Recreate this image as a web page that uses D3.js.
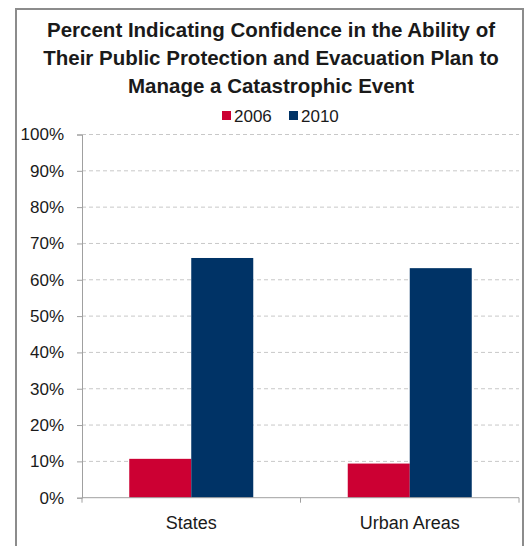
<!DOCTYPE html>
<html><head><meta charset="utf-8">
<script src="https://cdn.jsdelivr.net/npm/d3@7"></script>
<style>body{margin:0;background:#fff;}svg{display:block;font-family:"Liberation Sans",Arial,sans-serif;}</style>
</head><body>
<svg id="c" width="528" height="546"></svg>
<script>
const categories = ["States", "Urban Areas"];
const seriesNames = ["2006", "2010"];
const values2006 = [0.107, 0.094];
const values2010 = [0.66, 0.632];
const yTicks = [0,0.1,0.2,0.3,0.4,0.5,0.6,0.7,0.8,0.9,1.0];
const titleLines = ["Percent Indicating Confidence in the Ability of","Their Public Protection and Evacuation Plan to","Manage a Catastrophic Event"];
const colors = ["#cc0033", "#003366"];

(function(){
const svg = d3.select("#c");
svg.append("path").attr("d","M16,548 V9 H523 V548").attr("fill","none").attr("stroke","#8c8c8c").attr("stroke-width",2);

svg.append("g").selectAll("text").data(titleLines).join("text")
  .attr("x",271).attr("y",(d,i)=>37+i*28).attr("text-anchor","middle")
  .attr("font-weight","bold").attr("font-size",20.5).attr("fill","#1a1a1a").text(d=>d);

const pl=82,pr=519,pt=134.5,pb=497.7;
const x = d3.scaleBand().domain(categories).range([pl,pr]).paddingInner(0).paddingOuter(0);
const inner = d3.scaleBand().domain(seriesNames).range([0,x.bandwidth()]).paddingInner(0).paddingOuter(0.762);
const y = d3.scaleLinear().domain([0,1]).range([pb,pt]);

svg.append("g").selectAll("line").data(yTicks.slice(1)).join("line")
  .attr("x1",pl).attr("x2",pr).attr("y1",d=>y(d)).attr("y2",d=>y(d))
  .attr("stroke","#c8c8c8").attr("stroke-dasharray","4,3").attr("stroke-width",1);

const yAxis = d3.axisLeft(y).tickValues(yTicks).tickFormat(d3.format(".0%")).tickSize(5).tickPadding(13);
const gy = svg.append("g").attr("transform",`translate(${pl},0)`).call(yAxis);
gy.select(".domain").attr("stroke","#a0a0a0");
gy.selectAll(".tick line").attr("stroke","#a0a0a0");
gy.selectAll("text").attr("font-size",17).attr("fill","#1a1a1a").attr("font-family","Liberation Sans, Arial, sans-serif");

const data = categories.map((c,i)=>({cat:c, vals:[{s:seriesNames[0],v:values2006[i]},{s:seriesNames[1],v:values2010[i]}]}));
const groups = svg.append("g").selectAll("g").data(data).join("g").attr("transform",d=>`translate(${x(d.cat)},0)`);
groups.selectAll("rect").data(d=>d.vals).join("rect")
  .attr("x",d=>inner(d.s)).attr("width",inner.bandwidth())
  .attr("y",d=>y(d.v)).attr("height",d=>y(0)-y(d.v))
  .attr("fill",(d,i)=>colors[i]);

const gx = svg.append("g").attr("transform",`translate(0,${pb})`);
gx.append("line").attr("x1",pl).attr("x2",pr).attr("stroke","#a0a0a0");
gx.selectAll("line.t").data([pl, ...categories.map(c=>x(c)+x.bandwidth())]).join("line").attr("class","t")
  .attr("x1",d=>d).attr("x2",d=>d).attr("y1",0).attr("y2",5).attr("stroke","#a0a0a0");
gx.selectAll("text").data(categories).join("text")
  .attr("x",d=>x(d)+x.bandwidth()/2).attr("y",31).attr("text-anchor","middle")
  .attr("font-size",18).attr("fill","#1a1a1a").text(d=>d);

const leg = svg.append("g");
const legX = [222, 289];
seriesNames.forEach((s,i)=>{
  leg.append("rect").attr("x",legX[i]).attr("y",111).attr("width",9).attr("height",9).attr("fill",colors[i]);
  leg.append("text").attr("x",legX[i]+12).attr("y",122).attr("font-size",17).attr("fill","#1a1a1a").text(s);
});
})();
</script>
</body></html>
